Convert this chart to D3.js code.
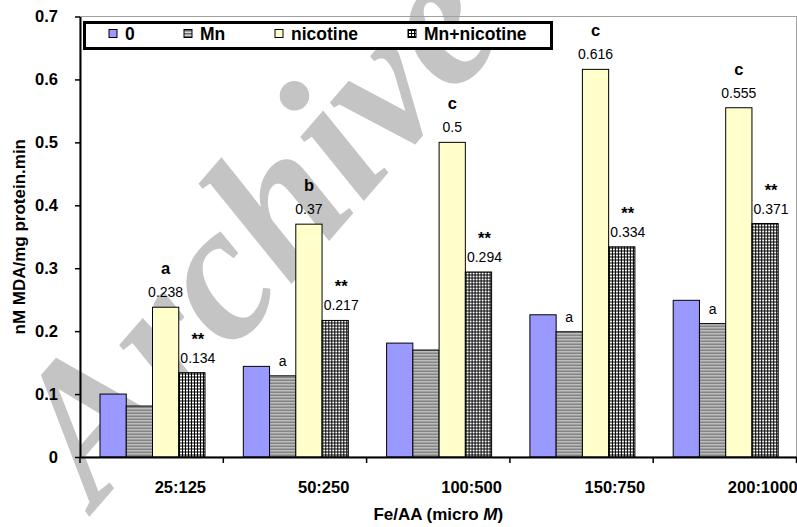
<!DOCTYPE html>
<html>
<head>
<meta charset="utf-8">
<script src="https://cdn.jsdelivr.net/npm/d3@7"></script>
<style>
body { margin: 0; background: #fff; }
svg { display: block; font-family: Arial, "Liberation Sans", sans-serif; }
</style>
</head>
<body>
<div id="plot"></div>
<script>
// data
var categories = ["25:125", "50:250", "100:500", "150:750", "200:1000"];
var seriesNames = ["0", "Mn", "nicotine", "Mn+nicotine"];
var control = [0.100, 0.144, 0.181, 0.226, 0.249];
var mn = [0.081, 0.129, 0.170, 0.199, 0.212];
var nicotine = [0.238, 0.370, 0.500, 0.616, 0.555];
var mnNicotine = [0.134, 0.217, 0.294, 0.334, 0.371];
var nicotineLetters = ["a", "b", "c", "c", "c"];
var nicotineLabels = ["0.238", "0.37", "0.5", "0.616", "0.555"];
var mnNicotineMarks = ["**", "**", "**", "**", "**"];
var mnNicotineLabels = ["0.134", "0.217", "0.294", "0.334", "0.371"];
var mnLetters = ["", "a", "", "a", "a"];
var yTicks = [0, 0.1, 0.2, 0.3, 0.4, 0.5, 0.6, 0.7];

var margin = {top: 16.5, right: 0.5, bottom: 70, left: 80};
var width = 797 - margin.left - margin.right;
var height = 527 - margin.top - margin.bottom;

var svg = d3.select("#plot").append("svg")
    .attr("width", 797)
    .attr("height", 527);

var defs = svg.append("defs");
var stripes = defs.append("pattern")
    .attr("id", "stripes")
    .attr("patternUnits", "userSpaceOnUse")
    .attr("width", 4).attr("height", 3);
stripes.append("rect").attr("width", 4).attr("height", 3).attr("fill", "#d8d8d8");
stripes.append("rect").attr("width", 4).attr("height", 1.5).attr("fill", "#686868");

var checks = defs.append("pattern")
    .attr("id", "checks")
    .attr("patternUnits", "userSpaceOnUse")
    .attr("width", 3).attr("height", 3);
checks.append("rect").attr("width", 3).attr("height", 3).attr("fill", "#000");
checks.append("rect").attr("x", 1).attr("y", 1).attr("width", 2).attr("height", 2).attr("fill", "#fff");

var fills = {
    "0": "#9999ff",
    "Mn": "url(#stripes)",
    "nicotine": "#ffffcc",
    "Mn+nicotine": "url(#checks)"
};

// watermark sits behind everything
svg.append("text")
    .attr("transform", "translate(96,509) rotate(-49)")
    .attr("font-family", "'Liberation Serif', 'DejaVu Serif', serif")
    .attr("font-style", "italic")
    .attr("font-weight", "bold")
    .attr("font-size", 196)
    .attr("fill", "#c4c4c4")
    .text("Archive");

var g = svg.append("g")
    .attr("transform", "translate(" + margin.left + "," + margin.top + ")");

var x0 = d3.scaleBand().domain(categories).range([0, width]);
var x1 = d3.scaleBand().domain(seriesNames).range([20, 125]);
var y = d3.scaleLinear().domain([0, 0.7]).range([height, 0]);

// plot area frame
g.append("rect")
    .attr("width", width).attr("height", height)
    .attr("fill", "none")
    .attr("stroke", "#a0a0a0")
    .attr("stroke-width", 1);

var rows = categories.map(function(c, i) {
    return {
        cat: c,
        values: [
            {key: "0", value: control[i]},
            {key: "Mn", value: mn[i]},
            {key: "nicotine", value: nicotine[i]},
            {key: "Mn+nicotine", value: mnNicotine[i]}
        ],
        i: i
    };
});

var groups = g.selectAll("g.group")
    .data(rows)
    .enter().append("g")
    .attr("class", "group")
    .attr("transform", function(d) { return "translate(" + x0(d.cat) + ",0)"; });

groups.selectAll("rect")
    .data(function(d) { return d.values; })
    .enter().append("rect")
    .attr("x", function(d) { return x1(d.key); })
    .attr("y", function(d) { return y(d.value); })
    .attr("width", x1.bandwidth())
    .attr("height", function(d) { return height - y(d.value); })
    .attr("fill", function(d) { return fills[d.key]; })
    .attr("stroke", "#000")
    .attr("stroke-width", 1);

// annotations
var nicX = x1("nicotine") + x1.bandwidth() / 2;
var mnnX = x1("Mn+nicotine") + x1.bandwidth() / 2 + 6;
var mnX = x1("Mn") + x1.bandwidth() / 2;

groups.append("text")
    .attr("x", nicX)
    .attr("y", function(d) { return y(nicotine[d.i]) - 33; })
    .attr("text-anchor", "middle")
    .attr("font-size", 16.5).attr("font-weight", "bold")
    .text(function(d) { return nicotineLetters[d.i]; });

groups.append("text")
    .attr("x", nicX)
    .attr("y", function(d) { return y(nicotine[d.i]) - 10; })
    .attr("text-anchor", "middle")
    .attr("font-size", 14)
    .text(function(d) { return nicotineLabels[d.i]; });

groups.append("text")
    .attr("x", mnnX)
    .attr("y", function(d) { return y(mnNicotine[d.i]) - 28; })
    .attr("text-anchor", "middle")
    .attr("font-size", 16.5).attr("font-weight", "bold")
    .text(function(d) { return mnNicotineMarks[d.i]; });

groups.append("text")
    .attr("x", mnnX)
    .attr("y", function(d) { return y(mnNicotine[d.i]) - 10; })
    .attr("text-anchor", "middle")
    .attr("font-size", 14)
    .text(function(d) { return mnNicotineLabels[d.i]; });

groups.append("text")
    .attr("x", mnX)
    .attr("y", function(d) { return y(mn[d.i]) - 10; })
    .attr("text-anchor", "middle")
    .attr("font-size", 14)
    .text(function(d) { return mnLetters[d.i]; });

// y axis
var yAxis = g.append("g")
    .call(d3.axisLeft(y)
        .tickValues(yTicks)
        .tickSize(5)
        .tickSizeOuter(0)
        .tickPadding(17)
        .tickFormat(function(d) { return d === 0 ? "0" : d3.format(".1f")(d); }));
yAxis.select(".domain").attr("stroke-width", 2);
yAxis.selectAll(".tick line").attr("stroke-width", 1.5);
yAxis.selectAll("text")
    .attr("font-size", 16.5).attr("font-weight", "bold")
    .attr("font-family", "Arial, 'Liberation Sans', sans-serif")
    .attr("fill", "#000");

// x axis
var xAxis = g.append("g")
    .attr("transform", "translate(0," + height + ")")
    .call(d3.axisBottom(x0).tickSize(0).tickSizeOuter(0));
xAxis.select(".domain").attr("stroke-width", 2);
xAxis.selectAll("text")
    .attr("text-anchor", "start")
    .attr("x", 3)
    .attr("y", 36)
    .attr("dy", 0)
    .attr("font-size", 16.5).attr("font-weight", "bold")
    .attr("font-family", "Arial, 'Liberation Sans', sans-serif")
    .attr("fill", "#000");

var bounds = categories.map(function(c) { return x0(c); }).concat([width]);
xAxis.selectAll("line.bound")
    .data(bounds)
    .enter().append("line")
    .attr("class", "bound")
    .attr("x1", function(d) { return d; })
    .attr("x2", function(d) { return d; })
    .attr("y1", 0).attr("y2", 6)
    .attr("stroke", "#000")
    .attr("stroke-width", 1.5);

// axis titles
svg.append("text")
    .attr("transform", "translate(25," + (margin.top + height / 2) + ") rotate(-90)")
    .attr("text-anchor", "middle")
    .attr("font-size", 17).attr("font-weight", "bold")
    .text("nM MDA/mg protein.min");

var xTitle = svg.append("text")
    .attr("x", margin.left + width / 2)
    .attr("y", 520)
    .attr("text-anchor", "middle")
    .attr("font-size", 17).attr("font-weight", "bold");
xTitle.append("tspan").text("Fe/AA (micro ");
xTitle.append("tspan").attr("font-style", "italic").text("M");
xTitle.append("tspan").text(")");

// legend
var legend = svg.append("g");
legend.append("rect")
    .attr("x", 84.5).attr("y", 22.5)
    .attr("width", 467).attr("height", 26)
    .attr("fill", "#fff")
    .attr("stroke", "#000")
    .attr("stroke-width", 3);

var legendX = [109, 184, 275, 408];
var items = legend.selectAll("g.item")
    .data(seriesNames)
    .enter().append("g")
    .attr("class", "item")
    .attr("transform", function(d, i) { return "translate(" + legendX[i] + ",0)"; });
items.append("rect")
    .attr("x", 0).attr("y", 29.5)
    .attr("width", 8).attr("height", 8)
    .attr("fill", function(d) { return fills[d]; })
    .attr("stroke", "#000")
    .attr("stroke-width", 1);
items.append("text")
    .attr("x", 16)
    .attr("y", 39.5)
    .attr("font-size", 17.5).attr("font-weight", "bold")
    .text(function(d) { return d; });
</script>
</body>
</html>
